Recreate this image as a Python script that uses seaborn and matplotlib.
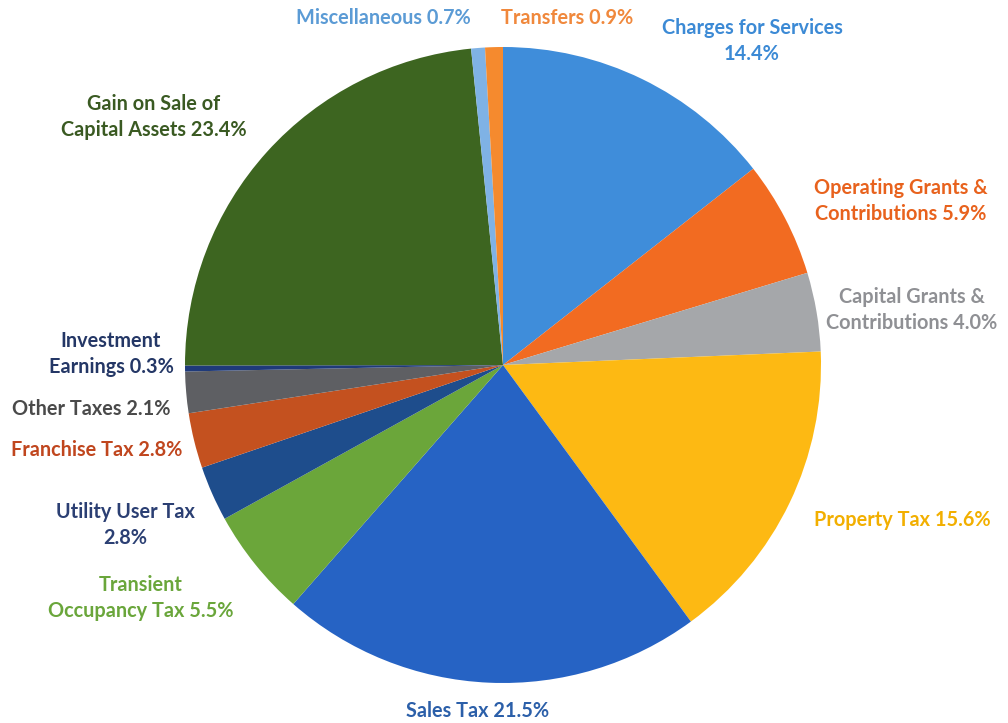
import matplotlib
matplotlib.use("Agg")
import matplotlib.pyplot as plt
import seaborn as sns

# 数据：从12点方向开始顺时针
categories = [
    "Charges for Services", "Operating Grants & Contributions",
    "Capital Grants & Contributions", "Property Tax", "Sales Tax",
    "Transient Occupancy Tax", "Utility User Tax", "Franchise Tax",
    "Other Taxes", "Investment Earnings", "Gain on Sale of Capital Assets",
    "Miscellaneous", "Transfers",
]
shares = [14.4, 5.9, 4.0, 15.6, 21.5, 5.5, 2.8, 2.8, 2.1, 0.3, 23.4, 0.7, 0.9]
label_texts = [
    "Charges for Services\n14.4%", "Operating Grants &\nContributions 5.9%",
    "Capital Grants &\nContributions 4.0%", "Property Tax 15.6%",
    "Sales Tax 21.5%", "Transient\nOccupancy Tax 5.5%",
    "Utility User Tax\n2.8%", "Franchise Tax 2.8%", "Other Taxes 2.1%",
    "Investment\nEarnings 0.3%", "Gain on Sale of\nCapital Assets 23.4%",
    "Miscellaneous 0.7%", "Transfers 0.9%",
]

# 样式
slice_colors = ["#3F8DDA", "#F26B21", "#A5A7AA", "#FDB913", "#2663C4", "#6BA63A",
                "#1E4D8C", "#C4511F", "#5E5F63", "#1F3A7A", "#3D6520", "#7FB2E5", "#F58A2E"]
text_colors = ["#3C8AD5", "#E8621D", "#8F9094", "#F2AF00", "#2B5FA9", "#6AA63B",
               "#2B3F73", "#C0461E", "#4A4A4A", "#243766", "#3A5A22", "#5B9BD5", "#F0883C"]
# 标签位置（像素，左上为原点）
label_pos = [(752, 41), (901, 201), (912, 310), (902, 520), (478, 711),
             (141, 598), (125, 525), (97, 450), (91, 409), (111, 354),
             (154, 117), (383, 18), (567, 18)]

sns.set_theme(style="white")
plt.rcParams['font.family'] = ['Lato', 'DejaVu Sans']

W, H = 1008, 723
fig = plt.figure(figsize=(W / 100, H / 100), dpi=100)
ax = fig.add_axes([0, 0, 1, 1])

ax.pie(shares, colors=slice_colors, startangle=90, counterclock=False,
       center=(503, H - 365), radius=318, frame=True,
       wedgeprops=dict(linewidth=0))
ax.set_xlim(0, W)
ax.set_ylim(0, H)
ax.set_aspect("equal")
ax.axis("off")

for txt, col, (x, y) in zip(label_texts, text_colors, label_pos):
    ax.text(x, H - y, txt, color=col, fontsize=14.3, fontweight="bold",
            ha="center", va="center", multialignment="center", linespacing=1.33)

fig.savefig("out.png", dpi=100)
